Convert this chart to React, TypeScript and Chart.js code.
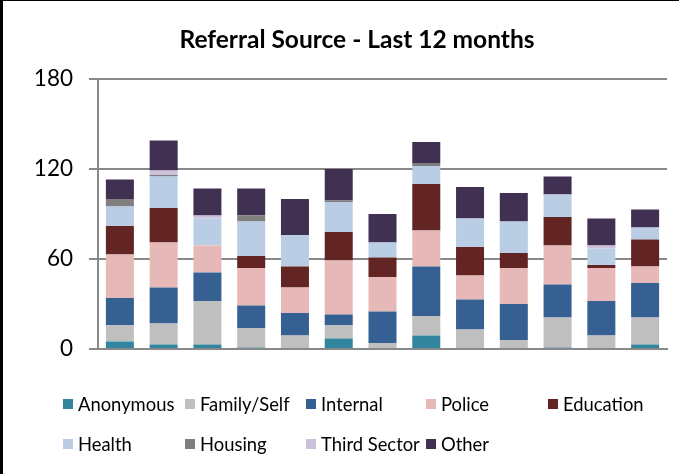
import React, { useEffect, useRef } from "react";
import { Chart, registerables } from "chart.js";

Chart.register(...registerables);

const months = ["M1", "M2", "M3", "M4", "M5", "M6", "M7", "M8", "M9", "M10", "M11", "M12", "M13"];

const anonymous = [5, 3, 3, 1, 0, 7, 0, 9, 0, 0, 1, 0, 3];
const familySelf = [11, 14, 29, 13, 9, 9, 4, 13, 13, 6, 20, 9, 18];
const internal = [18, 24, 19, 15, 15, 7, 21, 33, 20, 24, 22, 23, 23];
const police = [29, 30, 18, 25, 17, 36, 23, 24, 16, 24, 26, 22, 11];
const education = [19, 23, 0, 8, 14, 19, 13, 31, 19, 10, 19, 2, 18];
const health = [13, 21, 18, 23, 21, 20, 10, 12, 19, 21, 15, 11, 8];
const housing = [5, 1, 0, 4, 0, 1, 0, 2, 0, 0, 0, 0, 0];
const thirdSector = [0, 3, 2, 0, 0, 0, 0, 0, 0, 0, 0, 2, 0];
const other = [13, 20, 18, 18, 24, 21, 19, 14, 21, 19, 12, 18, 12];

const yTicks = [0, 60, 120, 180];

const titleText = "Referral Source - Last 12 months";
const seriesNames = ["Anonymous", "Family/Self", "Internal", "Police", "Education", "Health", "Housing", "Third Sector", "Other"];
const seriesColors = ["#31859C", "#BFBFBF", "#376092", "#E6B9B8", "#632523", "#B9CDE5", "#7F7F7F", "#CCC1DA", "#403152"];
const seriesData = [anonymous, familySelf, internal, police, education, health, housing, thirdSector, other];

const FONT = "Lato, 'Liberation Sans', sans-serif";

const titleAndLegend = {
  id: "titleAndLegend",
  afterDraw(chart: any) {
    const ctx = chart.ctx;
    ctx.save();
    ctx.font = `bold 24.5px ${FONT}`;
    ctx.fillStyle = "#000";
    ctx.textAlign = "center";
    ctx.textBaseline = "middle";
    ctx.fillText(chart.options.plugins.titleAndLegend.text, 354, 39);

    const colX = [60, 182, 303, 423, 545];
    const rowY = [403, 443];
    ctx.font = `18.4px ${FONT}`;
    ctx.textBaseline = "middle";
    ctx.textAlign = "left";
    chart.data.datasets.forEach((ds: any, i: number) => {
      const col = i % 5;
      const row = Math.floor(i / 5);
      const x = colX[col];
      const y = rowY[row];
      ctx.fillStyle = ds.backgroundColor;
      ctx.fillRect(x, y - 5, 10, 10);
      ctx.fillStyle = "#000";
      ctx.fillText(ds.label, x + 15, y + 1);
    });
    ctx.restore();
  },
};

export default function App() {
  const ref = useRef<HTMLCanvasElement | null>(null);
  useEffect(() => {
    if (!ref.current) return;
    const chart = new Chart(ref.current, {
      type: "bar",
      data: {
        labels: months,
        datasets: seriesNames.map((name, i) => ({
          label: name,
          data: seriesData[i],
          backgroundColor: seriesColors[i],
          borderWidth: 0,
          categoryPercentage: 1,
          barPercentage: 0.64,
        })),
      },
      options: {
        animation: false,
        responsive: false,
        maintainAspectRatio: false,
        layout: { padding: { left: 0, right: 12, top: 78, bottom: 125 } },
        plugins: {
          legend: { display: false },
          tooltip: { enabled: false },
          title: { display: false },
          titleAndLegend: { text: titleText },
        } as any,
        scales: {
          x: {
            stacked: true,
            ticks: { display: false },
            grid: { display: false, drawTicks: false },
            border: { display: true, color: "#898989", width: 2 },
            afterFit: (s: any) => { s.height = 0; },
          },
          y: {
            stacked: true,
            min: 0,
            max: 180,
            afterBuildTicks: (s: any) => { s.ticks = yTicks.map((v) => ({ value: v })); },
            ticks: {
              color: "#000",
              padding: 16,
              font: { family: FONT, size: 22.5 },
            },
            grid: { color: "#898989", lineWidth: 2, tickLength: 9, drawTicks: true },
            border: { display: true, color: "#898989", width: 2 },
            afterFit: (s: any) => { s.width = 95; },
          },
        },
      },
      plugins: [titleAndLegend],
    });
    return () => chart.destroy();
  }, []);
  return (
    <div
      style={{
        position: "absolute",
        left: 0,
        top: 0,
        width: 679,
        height: 474,
        background: "#fff",
        boxSizing: "border-box",
        borderLeft: "3px solid #000",
        borderTop: "1px solid #000",
        overflow: "hidden",
      }}
    >
      <canvas ref={ref} width={676} height={473} style={{ position: "absolute", left: 0, top: 0, width: 676, height: 473 }} />
    </div>
  );
}
